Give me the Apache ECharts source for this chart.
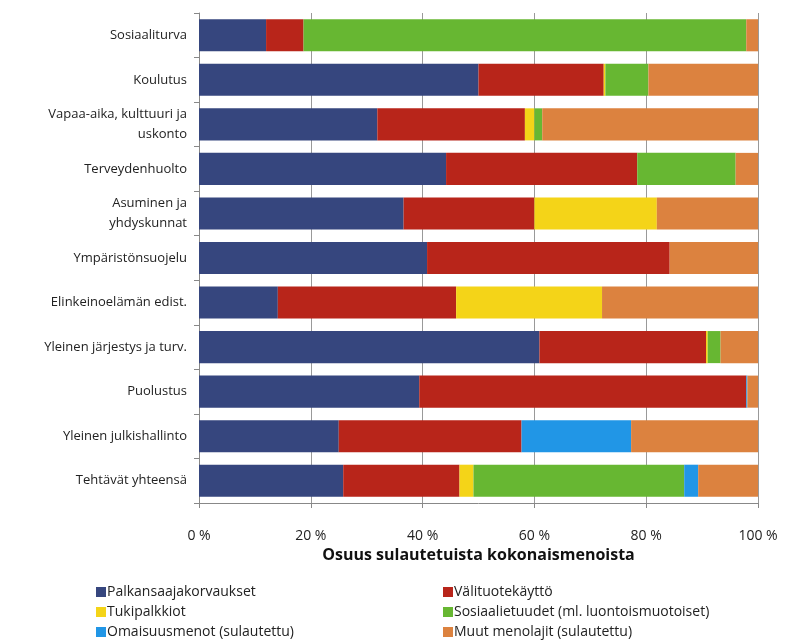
<!DOCTYPE html>
<html><head><meta charset="utf-8">
<script src="https://cdn.jsdelivr.net/npm/echarts@6/dist/echarts.min.js"></script>
<style>html,body{margin:0;padding:0;background:#fff}#c{width:786px;height:640px}</style>
</head><body><div id="c"></div>
<script>
var categories = ["Sosiaaliturva","Koulutus","Vapaa-aika, kulttuuri ja\nuskonto","Terveydenhuolto","Asuminen ja\nyhdyskunnat","Ympäristönsuojelu","Elinkeinoelämän edist.","Yleinen järjestys ja turv.","Puolustus","Yleinen julkishallinto","Tehtävät yhteensä"];
var palkansaajakorvaukset = [12.0, 50.0, 31.9, 44.2, 36.6, 40.8, 14.1, 60.9, 39.4, 25.0, 25.8];
var valituotekaytto       = [6.7, 22.4, 26.4, 34.2, 23.4, 43.4, 31.9, 29.8, 58.5, 32.7, 20.8];
var tukipalkkiot          = [0.0, 0.3, 1.7, 0.0, 21.9, 0.0, 26.1, 0.3, 0.0, 0.0, 2.5];
var sosiaalietuudet       = [79.2, 7.7, 1.4, 17.6, 0.0, 0.0, 0.0, 2.3, 0.0, 0.0, 37.7];
var omaisuusmenot         = [0.0, 0.0, 0.0, 0.0, 0.0, 0.0, 0.0, 0.0, 0.2, 19.6, 2.5];
var muutMenolajit         = [2.1, 19.6, 38.6, 4.0, 18.1, 15.8, 27.9, 6.7, 1.9, 22.7, 10.7];
var seriesNames = ["Palkansaajakorvaukset","Välituotekäyttö","Tukipalkkiot","Sosiaalietuudet (ml. luontoismuotoiset)","Omaisuusmenot (sulautettu)","Muut menolajit (sulautettu)"];
var seriesColors = ["#36467E","#B8251A","#F4D418","#67B732","#2196E6","#DC823F"];
var seriesData = [palkansaajakorvaukset, valituotekaytto, tukipalkkiot, sosiaalietuudet, omaisuusmenot, muutMenolajit];

var chart = echarts.init(document.getElementById('c'), null, {renderer:'canvas'});
var font = '"Open Sans", sans-serif';
function legendCfg(left, names) {
  return {
    orient: 'vertical', left: left, top: 585, height: 60, padding: 0,
    itemWidth: 10, itemHeight: 10, itemGap: 6, icon: 'rect',
    textStyle: {fontFamily: font, fontSize: 14, color: '#222', lineHeight: 12, padding: [0,0,0,-4]},
    selectedMode: false, data: names
  };
}
chart.setOption({
  animation: false,
  textStyle: {fontFamily: font},
  grid: {left: 199, right: 28, top: 13, bottom: 137, containLabel: false},
  legend: [
    legendCfg(96, [seriesNames[0], seriesNames[2], seriesNames[4]]),
    legendCfg(443, [seriesNames[1], seriesNames[3], seriesNames[5]])
  ],
  xAxis: {
    type: 'value', min: 0, max: 100, interval: 20,
    name: 'Osuus sulautetuista kokonaismenoista', nameLocation: 'middle', nameGap: 44,
    nameTextStyle: {fontFamily: font, fontSize: 16, fontWeight: 'bold', color: '#111'},
    axisLine: {show: true, lineStyle: {color: '#888'}},
    axisTick: {show: true, length: 5, lineStyle: {color: '#888'}},
    axisLabel: {formatter: '{value} %', fontFamily: font, fontSize: 14, color: '#222', margin: 26},
    splitLine: {show: true, lineStyle: {color: '#999', width: 1}}
  },
  yAxis: {
    type: 'category', data: categories, inverse: true,
    axisLine: {show: true, lineStyle: {color: '#888'}},
    axisTick: {show: true, length: 5, lineStyle: {color: '#888'}},
    axisLabel: {fontFamily: font, fontSize: 13, color: '#222', margin: 12, lineHeight: 20, align: 'right'}
  },
  series: seriesData.map(function(d, i){
    return {
      name: seriesNames[i], type: 'bar', stack: 'total', data: d,
      barCategoryGap: '28%', itemStyle: {color: seriesColors[i]}
    };
  })
});
</script></body></html>
